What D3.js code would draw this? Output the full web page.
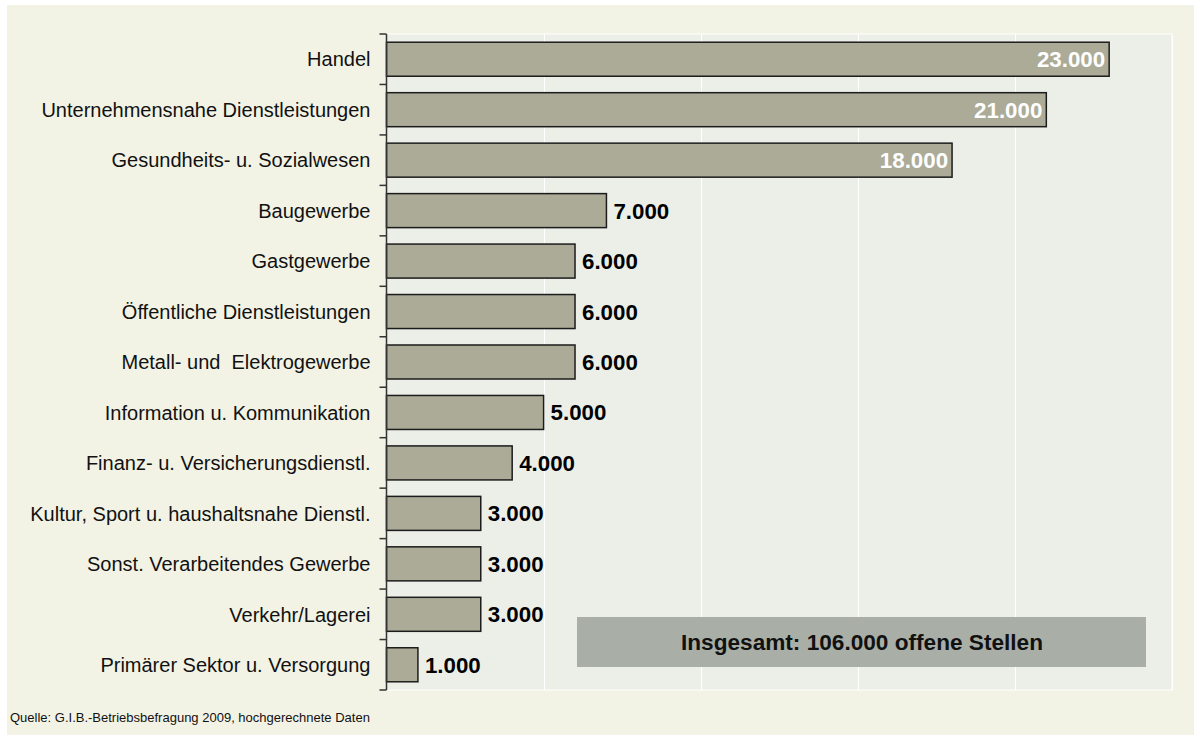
<!DOCTYPE html>
<html>
<head>
<meta charset="utf-8">
<script src="https://cdn.jsdelivr.net/npm/d3@7"></script>
<style>
  html, body { margin: 0; padding: 0; background: #ffffff; }
  svg { display: block; }
  text { font-family: "Liberation Sans", Arial, sans-serif; white-space: pre; }
</style>
</head>
<body>
<div id="container"></div>
<script>
const categories = [
    'Handel',
    'Unternehmensnahe Dienstleistungen',
    'Gesundheits- u. Sozialwesen',
    'Baugewerbe',
    'Gastgewerbe',
    'Öffentliche Dienstleistungen',
    'Metall- und  Elektrogewerbe',
    'Information u. Kommunikation',
    'Finanz- u. Versicherungsdienstl.',
    'Kultur, Sport u. haushaltsnahe Dienstl.',
    'Sonst. Verarbeitendes Gewerbe',
    'Verkehr/Lagerei',
    'Primärer Sektor u. Versorgung'
];
const values = [23000, 21000, 18000, 7000, 6000, 6000, 6000, 5000, 4000, 3000, 3000, 3000, 1000];
const xTicks = [5000, 10000, 15000, 20000, 25000];
const totalText = 'Insgesamt: 106.000 offene Stellen';
const sourceText = 'Quelle: G.I.B.-Betriebsbefragung 2009, hochgerechnete Daten';

const width = 1194;
const height = 735;
const plot = { left: 386.5, right: 1172, top: 34, bottom: 690 };

const de = d3.formatLocale({ decimal: ',', thousands: '.', grouping: [3], currency: ['', ' €'] });
const fmt = de.format(',d');

const svg = d3.select('#container').append('svg')
    .attr('width', width)
    .attr('height', height);

// page background
svg.append('rect')
    .attr('x', 7).attr('y', 5)
    .attr('width', width - 7).attr('height', height - 5)
    .attr('fill', '#f3f3e5');

const x = d3.scaleLinear()
    .domain([0, 25000])
    .range([plot.left, plot.right]);

const y = d3.scaleBand()
    .domain(categories)
    .range([plot.top, plot.bottom])
    .paddingInner(0.326)
    .paddingOuter(0.163);

// plot area
svg.append('rect')
    .attr('x', plot.left).attr('y', plot.top)
    .attr('width', plot.right - plot.left).attr('height', plot.bottom - plot.top)
    .attr('fill', '#ecefe8')
    .attr('stroke', '#ffffff')
    .attr('stroke-width', 1);

// vertical gridlines
svg.append('g')
    .selectAll('line')
    .data(xTicks)
    .enter()
    .append('line')
    .attr('x1', d => Math.round(x(d)) + 0.5)
    .attr('x2', d => Math.round(x(d)) + 0.5)
    .attr('y1', plot.top)
    .attr('y2', plot.bottom)
    .attr('stroke', '#ffffff')
    .attr('stroke-width', 1);

// total box
svg.append('rect')
    .attr('x', 577).attr('y', 617)
    .attr('width', 569).attr('height', 50)
    .attr('fill', '#a9afa7');
svg.append('text')
    .attr('x', 862).attr('y', 650)
    .attr('text-anchor', 'middle')
    .attr('font-size', 22)
    .attr('font-weight', 'bold')
    .attr('textLength', 362)
    .attr('lengthAdjust', 'spacingAndGlyphs')
    .attr('fill', '#111')
    .text(totalText);

// bars
svg.append('g')
    .selectAll('rect')
    .data(values)
    .enter()
    .append('rect')
    .attr('x', x(0))
    .attr('y', (d, i) => y(categories[i]))
    .attr('width', d => x(d) - x(0))
    .attr('height', y.bandwidth())
    .attr('fill', '#abab98')
    .attr('stroke', '#1c1c1c')
    .attr('stroke-width', 1.5);

// value labels
svg.append('g')
    .selectAll('text')
    .data(values)
    .enter()
    .append('text')
    .attr('x', d => d > 10000 ? x(d) - 4 : x(d) + 7)
    .attr('y', (d, i) => y(categories[i]) + y.bandwidth() / 2)
    .attr('dy', '0.36em')
    .attr('text-anchor', d => d > 10000 ? 'end' : 'start')
    .attr('font-size', 22.3)
    .attr('font-weight', 'bold')
    .attr('fill', d => d > 10000 ? '#ffffff' : '#000000')
    .text(d => fmt(d));

// category axis
const yAxis = svg.append('g')
    .attr('transform', `translate(${plot.left},0)`);
yAxis.append('line')
    .attr('x1', 0).attr('x2', 0)
    .attr('y1', plot.top).attr('y2', plot.bottom)
    .attr('stroke', '#333').attr('stroke-width', 1.5);
const tickYs = categories.map(c => y(c) - y.step() * y.paddingInner() / 2);
tickYs[0] = plot.top;
tickYs.push(plot.bottom);
yAxis.selectAll('line.tick')
    .data(tickYs)
    .enter()
    .append('line')
    .attr('class', 'tick')
    .attr('x1', -7).attr('x2', 0)
    .attr('y1', d => d).attr('y2', d => d)
    .attr('stroke', '#333').attr('stroke-width', 1.5);
yAxis.selectAll('text')
    .data(categories)
    .enter()
    .append('text')
    .attr('x', -16)
    .attr('y', d => y(d) + y.bandwidth() / 2)
    .attr('dy', '0.36em')
    .attr('text-anchor', 'end')
    .attr('font-size', 20)
    .attr('fill', '#111')
    .text(d => d);

// source
svg.append('text')
    .attr('x', 10).attr('y', 722)
    .attr('font-size', 13)
    .attr('fill', '#111')
    .text(sourceText);
</script>
</body>
</html>
